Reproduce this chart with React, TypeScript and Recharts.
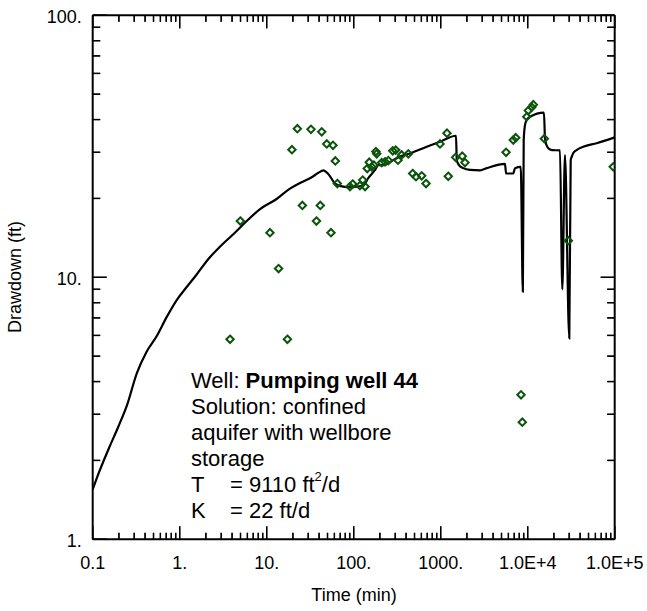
import React from 'react';
import { ComposedChart, Line, Scatter, XAxis, YAxis } from 'recharts';

// Observed drawdown (time in min, drawdown in ft)
const obsTime = [
  3.79, 17.3, 4.98, 10.9, 13.7, 19.5, 22.5, 25.7, 32.3, 37.3, 41.3, 42.9, 49.0, 54.8, 57.8, 61.5, 64.8,
  90.6, 97.4, 118, 127, 135, 143, 151, 161, 171, 180, 184, 210, 229, 250, 281, 304, 323, 356, 425,
  476, 520, 605, 678, 982, 1180, 1222, 1486, 1770, 1901, 5640, 6830, 7280, 8380, 8670, 9750, 10170,
  11120, 11600, 15530, 29300, 96300,
];
const obsDrawdown = [
  5.8, 5.8, 16.4, 14.8, 10.8, 30.7, 36.9, 18.8, 36.7, 16.4, 18.8, 35.9, 32.3, 14.8, 31.9, 27.8, 22.8,
  22.2, 22.7, 22.4, 23.5, 22.2, 26.0, 27.5, 26.4, 26.8, 30.2, 29.6, 27.4, 27.6, 27.9, 30.4, 30.6, 28.0, 29.3, 29.6,
  24.9, 24.2, 24.4, 22.8, 32.3, 35.5, 24.3, 28.7, 29.0, 27.4, 30.0, 33.4, 34.1, 3.56, 2.8, 41.0, 43.3,
  44.6, 45.6, 33.8, 13.8, 26.4,
];

// Fitted solution curve
const fitTime = [
  0.1, 0.1112, 0.154, 0.197, 0.248, 0.321, 0.415, 0.545, 0.705, 0.924, 1.204, 1.568, 2.115, 2.9, 4.13,
  5.78, 8.38, 13.0, 18.5, 24.8, 32.9, 38.9, 44.8, 47.7, 52.0, 61.0, 75.9, 90.6, 129, 147, 176, 192, 219,
  285, 341, 443, 690, 982, 1500, 1530, 1622, 1820, 2173, 2831, 3383, 5484, 5640, 6830, 7150, 8320, 8790,
  9000, 9310, 9750, 10620, 15380, 15810, 16440, 17250, 19000, 23500, 25000, 26800, 30060, 31200, 32300,
  33400, 36500, 43500, 62100, 100000,
];
const fitDrawdown = [
  1.551, 1.71, 2.23, 2.69, 3.25, 4.3, 5.19, 5.97, 7.03, 8.19, 9.18, 10.25, 11.7, 13.09, 14.6,
  16.3, 18.2, 19.9, 21.8, 23.0, 24.1, 25.0, 25.6, 25.3, 24.6, 22.8, 22.2, 22.1, 22.4, 23.9, 25.7, 26.8, 26.8,
  28.0, 28.9, 29.7, 31.5, 32.9, 34.7, 28.0, 26.8, 26.1, 25.7, 25.6, 26.1, 27.1, 24.9, 24.9, 26.1, 26.4, 8.81,
  33.4, 38.1, 39.9, 41.0, 42.5, 33.9, 32.0, 31.1, 30.6, 30.5, 9.0, 29.3, 5.85, 28.0, 29.0,
  29.8, 30.6, 31.5, 32.5, 34.2,
];

const xDomain = [0.1, 100000];
const yDomain = [1, 100];
const xMajorTicks = [0.1, 1, 10, 100, 1000, 10000, 100000];
const xTickLabels = ['0.1', '1.', '10.', '100.', '1000.', '1.0E+4', '1.0E+5'];
const yMajorTicks = [1, 10, 100];
const yTickLabels = ['1.', '10.', '100.'];
const minorMultipliers = [2, 3, 4, 5, 6, 7, 8, 9];

const obsData = obsTime.map((t, i) => ({ t, d: obsDrawdown[i] }));
const fitData = fitTime.map((t, i) => ({ t, d: fitDrawdown[i] }));

const buildTicks = (majors: number[]) => {
  const out: number[] = [];
  majors.forEach((m, i) => {
    out.push(m);
    if (i < majors.length - 1) minorMultipliers.forEach((k) => out.push(m * k));
  });
  return out;
};
const xTicks = buildTicks(xMajorTicks);
const yTicks = buildTicks(yMajorTicks);

const FONT = '"Liberation Sans", Arial, Helvetica, sans-serif';
const TW = 1.3;
const X_MAJ = 13;
const X_MIN = 6.5;
const Y_MAJ = 14;
const Y_MIN = 7.5;

const majorIndex = (v: number, majors: number[]) =>
  majors.findIndex((m) => Math.abs(m - v) / m < 1e-6);
const logFrac = (v: number, dom: number[]) =>
  (Math.log10(v) - Math.log10(dom[0])) / (Math.log10(dom[1]) - Math.log10(dom[0]));

// axis tick renderers (tickSize=1, tickMargin=0: props sit 1px outside the frame)
const BottomTick = (props: any) => {
  const x = Number(props.x);
  const axisY = Number(props.y) - 1;
  const idx = majorIndex(props.payload.value, xMajorTicks);
  const len = idx >= 0 ? X_MAJ : X_MIN;
  return (
    <g>
      <rect x={x - TW / 2} y={axisY - len} width={TW} height={len} fill="#000" />
      {idx >= 0 && (
        <text x={x} y={axisY + 30} textAnchor="middle" fontSize={18} fill="#000">
          {xTickLabels[idx]}
        </text>
      )}
    </g>
  );
};
const TopTick = (props: any) => {
  const x = Number(props.x);
  const axisY = Number(props.y) + 1;
  const len = majorIndex(props.payload.value, xMajorTicks) >= 0 ? X_MAJ : X_MIN;
  return <rect x={x - TW / 2} y={axisY} width={TW} height={len} fill="#000" />;
};
const LeftTick = (props: any) => {
  const axisX = Number(props.x) + 1;
  const y = Number(props.y);
  const idx = majorIndex(props.payload.value, yMajorTicks);
  const len = idx >= 0 ? Y_MAJ : Y_MIN;
  return (
    <g>
      <rect x={axisX} y={y - TW / 2} width={len} height={TW} fill="#000" />
      {idx >= 0 && (
        <text x={axisX - 11} y={y + 7.5} textAnchor="end" fontSize={18} fill="#000">
          {yTickLabels[idx]}
        </text>
      )}
    </g>
  );
};
const RightTick = (props: any) => {
  const axisX = Number(props.x) - 1;
  const y = Number(props.y);
  const len = majorIndex(props.payload.value, yMajorTicks) >= 0 ? Y_MAJ : Y_MIN;
  return <rect x={axisX - len} y={y - TW / 2} width={len} height={TW} fill="#000" />;
};

// Tick marks drawn again from each axis' own viewBox (backup for the tick layer)
const getVB = (props: any) => {
  const vb = props && (props.viewBox || props);
  if (!vb || typeof vb.x !== 'number' || typeof vb.width !== 'number') return null;
  return vb;
};
const BottomMarks = (vb: any) =>
  xTicks.map((v) => {
    const px = vb.x + vb.width * logFrac(v, xDomain);
    const len = majorIndex(v, xMajorTicks) >= 0 ? X_MAJ : X_MIN;
    return <rect key={`bm${v}`} x={px - TW / 2} y={vb.y - len} width={TW} height={len} fill="#000" />;
  });

const BottomLabelContent = (props: any) => {
  const vb = getVB(props);
  return (
    <g>
      {vb && BottomMarks(vb)}
      <g fontFamily={FONT} fill="#000">
        <text x={191} y={388.3} fontSize={22}>
          Well: <tspan fontWeight="bold">Pumping well 44</tspan>
        </text>
        <text x={191} y={414.2} fontSize={22}>Solution: confined</text>
        <text x={191} y={440.1} fontSize={22}>aquifer with wellbore</text>
        <text x={191} y={466} fontSize={22}>storage</text>
        <text x={191} y={491.9} fontSize={22}>T</text>
        <text x={230} y={491.9} fontSize={22}>
          = 9110 ft<tspan dy={-10.5} fontSize={13}>2</tspan><tspan dy={10.5}>/d</tspan>
        </text>
        <text x={191} y={517.8} fontSize={22}>K</text>
        <text x={230} y={517.8} fontSize={22}>= 22 ft/d</text>
        <text x={0} y={0} transform="translate(20.5, 277) rotate(-90)" textAnchor="middle" fontSize={18}>
          Drawdown (ft)
        </text>
        <text x={354} y={601} textAnchor="middle" fontSize={18}>
          Time (min)
        </text>
      </g>
    </g>
  );
};
const TopLabelContent = (props: any) => {
  const vb = getVB(props);
  if (!vb) return <g />;
  const axisY = vb.y + (vb.height || 0);
  return (
    <g>
      {xTicks.map((v) => {
        const px = vb.x + vb.width * logFrac(v, xDomain);
        const len = majorIndex(v, xMajorTicks) >= 0 ? X_MAJ : X_MIN;
        return <rect key={`tm${v}`} x={px - TW / 2} y={axisY} width={TW} height={len} fill="#000" />;
      })}
    </g>
  );
};
const LeftLabelContent = (props: any) => {
  const vb = getVB(props);
  if (!vb || typeof vb.height !== 'number') return <g />;
  const axisX = vb.x + vb.width;
  return (
    <g>
      {yTicks.map((v) => {
        const py = vb.y + vb.height * (1 - logFrac(v, yDomain));
        const len = majorIndex(v, yMajorTicks) >= 0 ? Y_MAJ : Y_MIN;
        return <rect key={`lm${v}`} x={axisX} y={py - TW / 2} width={len} height={TW} fill="#000" />;
      })}
    </g>
  );
};
const RightLabelContent = (props: any) => {
  const vb = getVB(props);
  if (!vb || typeof vb.height !== 'number') return <g />;
  const axisX = vb.x;
  return (
    <g>
      {yTicks.map((v) => {
        const py = vb.y + vb.height * (1 - logFrac(v, yDomain));
        const len = majorIndex(v, yMajorTicks) >= 0 ? Y_MAJ : Y_MIN;
        return <rect key={`rm${v}`} x={axisX - len} y={py - TW / 2} width={len} height={TW} fill="#000" />;
      })}
    </g>
  );
};

const Diamond = (props: any) => {
  const { cx, cy } = props;
  if (cx == null || cy == null) return <g />;
  const r = 3.7;
  return (
    <polygon
      points={`${cx},${cy - r} ${cx + r},${cy} ${cx},${cy + r} ${cx - r},${cy}`}
      fill="none"
      stroke="#0b540b"
      strokeWidth={2}
    />
  );
};

const axisLine = { stroke: '#000', strokeWidth: 2 };
const hidden = { stroke: 'none' };

export default function App() {
  return (
    <div
      style={{
        position: 'absolute',
        left: 0,
        top: 0,
        width: 647,
        height: 611,
        background: '#fff',
        fontFamily: FONT,
      }}
    >
      <ComposedChart width={647} height={611} margin={{ top: 14.3, right: 31.3, bottom: 11.7, left: 12.7 }}>
        <XAxis xAxisId="b" orientation="bottom" dataKey="t" type="number" scale="log" domain={xDomain}
          allowDataOverflow ticks={xTicks} interval={0} tick={BottomTick} tickLine={hidden} tickSize={1}
          tickMargin={0} axisLine={axisLine} height={60} label={BottomLabelContent} />
        <XAxis xAxisId="t" orientation="top" dataKey="t" type="number" scale="log" domain={xDomain}
          allowDataOverflow ticks={xTicks} interval={0} tick={TopTick} tickLine={hidden} tickSize={1}
          tickMargin={0} axisLine={axisLine} height={1} label={TopLabelContent} />
        <YAxis yAxisId="l" orientation="left" dataKey="d" type="number" scale="log" domain={yDomain}
          allowDataOverflow ticks={yTicks} interval={0} tick={LeftTick} tickLine={hidden} tickSize={1}
          tickMargin={0} axisLine={axisLine} width={80} label={LeftLabelContent} />
        <YAxis yAxisId="r" orientation="right" dataKey="d" type="number" scale="log" domain={yDomain}
          allowDataOverflow ticks={yTicks} interval={0} tick={RightTick} tickLine={hidden} tickSize={1}
          tickMargin={0} axisLine={axisLine} width={1} label={RightLabelContent} />
        <Line
          xAxisId="b"
          yAxisId="l"
          data={fitData}
          dataKey="d"
          type="monotone"
          stroke="#000"
          strokeWidth={2.2}
          dot={false}
          activeDot={false}
          isAnimationActive={false}
        />
        <Scatter
          xAxisId="b"
          yAxisId="l"
          data={obsData}
          dataKey="d"
          shape={Diamond}
          isAnimationActive={false}
        />
      </ComposedChart>
    </div>
  );
}
